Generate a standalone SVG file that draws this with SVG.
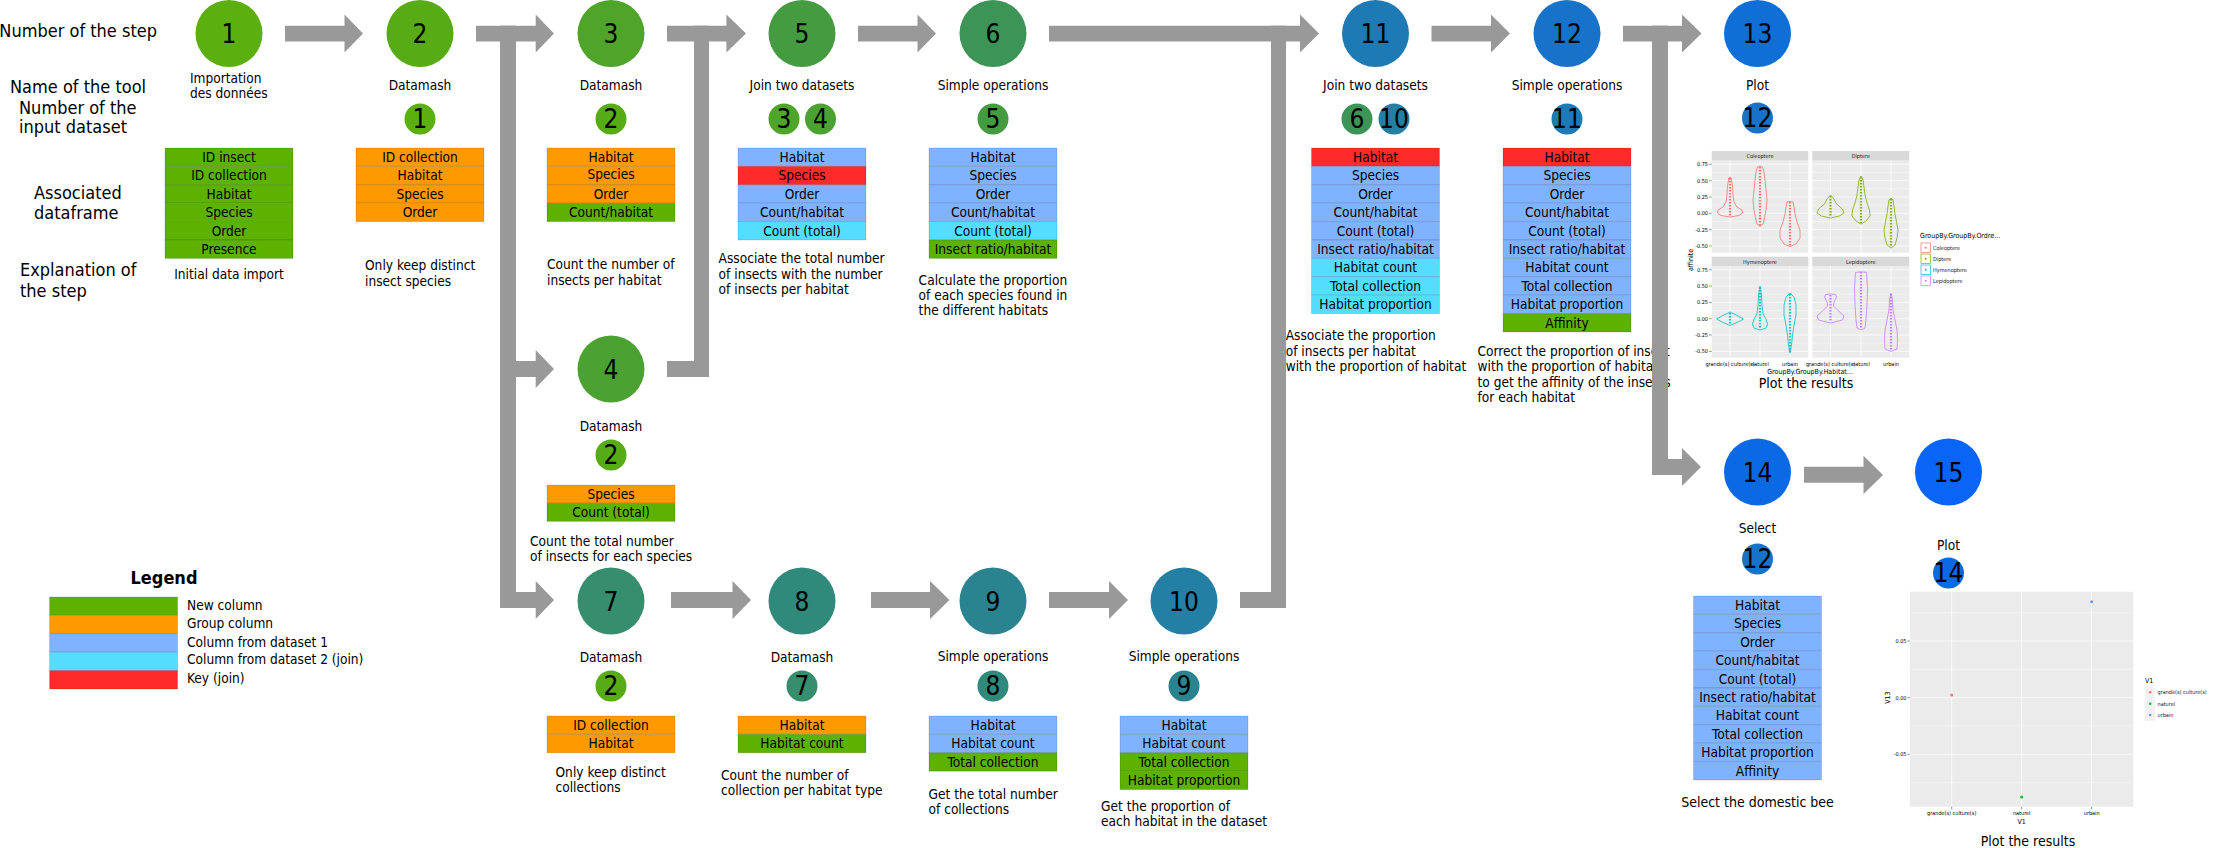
<svg xmlns="http://www.w3.org/2000/svg" width="2215" height="848" viewBox="0 0 2215 848">
<style>
text{font-family:"DejaVu Sans","Liberation Sans",sans-serif;font-stretch:condensed;fill:#000}
.l{font-size:13.6px}
.c{text-anchor:middle}
.n{font-size:26px;text-anchor:middle}
.s{font-size:18px}
.tb rect{stroke:#000;stroke-opacity:.13;stroke-width:1}
.tb text{font-size:13.6px;text-anchor:middle}
.rg{fill:#5db200}.ro{fill:#ff9900}.rb{fill:#80b3ff}.rc{fill:#55ddff}.rr{fill:#ff2a2a}
.arr{fill:#999}
.pb{fill:#ebebeb}
.gM{stroke:#fff;stroke-width:.7}
.gm{stroke:#fff;stroke-width:.35}
.tk{font-size:5.5px;fill:#4d4d4d}
.tr{text-anchor:end}
.ax{font-size:7px}
.vio{fill:none;stroke-width:.8}
.dot{stroke-width:2.2;stroke-dasharray:1.6 1.4}
</style>

<g id="side-labels">
<text class="s" x="157" y="37" text-anchor="end">Number of the step</text>
<text class="s" x="10" y="93">Name of the tool</text>
<text class="s" x="19" y="114">Number of the</text>
<text class="s" x="19" y="133">input dataset</text>
<text class="s" x="34" y="199">Associated</text>
<text class="s" x="34" y="219">dataframe</text>
<text class="s" x="20" y="276">Explanation of</text>
<text class="s" x="20" y="297">the step</text>
</g>

<g id="step1">
<circle cx="229" cy="33.5" r="33.5" fill="#5baf0e"/>
<text class="n" x="229" y="43">1</text>
<text class="l" x="190" y="83">Importation</text>
<text class="l" x="190" y="98">des données</text>
<g class="tb">
<rect class="rg" x="165" y="148" width="128" height="18.4"/><text x="229" y="162">ID insect</text>
<rect class="rg" x="165" y="166.4" width="128" height="18.4"/><text x="229" y="180.4">ID collection</text>
<rect class="rg" x="165" y="184.8" width="128" height="18.4"/><text x="229" y="198.8">Habitat</text>
<rect class="rg" x="165" y="203.2" width="128" height="18.4"/><text x="229" y="217.2">Species</text>
<rect class="rg" x="165" y="221.6" width="128" height="18.4"/><text x="229" y="235.6">Order</text>
<rect class="rg" x="165" y="240" width="128" height="18.4"/><text x="229" y="254">Presence</text>
</g>
<text class="l c" x="229" y="279">Initial data import</text>
</g>

<g id="step2">
<circle cx="420" cy="33.5" r="33.5" fill="#57ab14"/>
<text class="n" x="420" y="43">2</text>
<text class="l c" x="420" y="90">Datamash</text>
<circle cx="420" cy="119" r="15.5" fill="#5baf0e"/>
<text class="n" x="420" y="128.3">1</text>
<g class="tb">
<rect class="ro" x="356" y="148" width="128" height="18.4"/><text x="420" y="162">ID collection</text>
<rect class="ro" x="356" y="166.4" width="128" height="18.4"/><text x="420" y="180.4">Habitat</text>
<rect class="ro" x="356" y="184.8" width="128" height="18.4"/><text x="420" y="198.8">Species</text>
<rect class="ro" x="356" y="203.2" width="128" height="18.4"/><text x="420" y="217.2">Order</text>
</g>
<text class="l" x="365" y="270">Only keep distinct</text>
<text class="l" x="365" y="286">insect species</text>
</g>

<g id="step3">
<circle cx="611" cy="33.5" r="33.5" fill="#4fa42a"/>
<text class="n" x="611" y="43">3</text>
<text class="l c" x="611" y="90">Datamash</text>
<circle cx="611" cy="119" r="15.5" fill="#57ab14"/>
<text class="n" x="611" y="128.3">2</text>
<g class="tb">
<rect class="ro" x="547" y="148" width="128" height="18.4"/><text x="611" y="162">Habitat</text>
<rect class="ro" x="547" y="166.4" width="128" height="18.4"/><text x="611" y="178.5">Species</text>
<rect class="ro" x="547" y="184.8" width="128" height="18.4"/><text x="611" y="198.8">Order</text>
<rect class="rg" x="547" y="203.2" width="128" height="18.4"/><text x="611" y="217.2">Count/habitat</text>
</g>
<text class="l" x="547" y="269">Count the number of</text>
<text class="l" x="547" y="285">insects per habitat</text>
</g>

<g id="step4">
<circle cx="611" cy="369" r="33.5" fill="#4ba131"/>
<text class="n" x="611" y="378.5">4</text>
<text class="l c" x="611" y="431">Datamash</text>
<circle cx="611" cy="455" r="15.5" fill="#57ab14"/>
<text class="n" x="611" y="464.3">2</text>
<g class="tb">
<rect class="ro" x="547" y="485" width="128" height="18.2"/><text x="611" y="499">Species</text>
<rect class="rg" x="547" y="503.2" width="128" height="18.2"/><text x="611" y="517.2">Count (total)</text>
</g>
<text class="l" x="530" y="546">Count the total number</text>
<text class="l" x="530" y="561">of insects for each species</text>
</g>

<g id="step5">
<circle cx="802" cy="33.5" r="33.5" fill="#449b40"/>
<text class="n" x="802" y="43">5</text>
<text class="l c" x="802" y="90">Join two datasets</text>
<circle cx="784" cy="119" r="15.5" fill="#4fa42a"/>
<text class="n" x="784" y="128.3">3</text>
<circle cx="820.5" cy="119" r="15.5" fill="#4ba131"/>
<text class="n" x="820.5" y="128.3">4</text>
<g class="tb">
<rect class="rb" x="738" y="148" width="128" height="18.4"/><text x="802" y="162">Habitat</text>
<rect class="rr" x="738" y="166.4" width="128" height="18.4"/><text x="802" y="180.4">Species</text>
<rect class="rb" x="738" y="184.8" width="128" height="18.4"/><text x="802" y="198.8">Order</text>
<rect class="rb" x="738" y="203.2" width="128" height="18.4"/><text x="802" y="217.2">Count/habitat</text>
<rect class="rc" x="738" y="221.6" width="128" height="18.4"/><text x="802" y="235.6">Count (total)</text>
</g>
<text class="l" x="718.6" y="263.3">Associate the total number</text>
<text class="l" x="718.6" y="279">of insects with the number</text>
<text class="l" x="718.6" y="294.3">of insects per habitat</text>
</g>

<g id="step6">
<circle cx="993" cy="33.5" r="33.5" fill="#3c9457"/>
<text class="n" x="993" y="43">6</text>
<text class="l c" x="993" y="90">Simple operations</text>
<circle cx="993" cy="119" r="15.5" fill="#449b40"/>
<text class="n" x="993" y="128.3">5</text>
<g class="tb">
<rect class="rb" x="929" y="148" width="128" height="18.4"/><text x="993" y="162">Habitat</text>
<rect class="rb" x="929" y="166.4" width="128" height="18.4"/><text x="993" y="180.4">Species</text>
<rect class="rb" x="929" y="184.8" width="128" height="18.4"/><text x="993" y="198.8">Order</text>
<rect class="rb" x="929" y="203.2" width="128" height="18.4"/><text x="993" y="217.2">Count/habitat</text>
<rect class="rc" x="929" y="221.6" width="128" height="18.4"/><text x="993" y="235.6">Count (total)</text>
<rect class="rg" x="929" y="240" width="128" height="18.4"/><text x="993" y="254">Insect ratio/habitat</text>
</g>
<text class="l" x="918.6" y="285">Calculate the proportion</text>
<text class="l" x="918.6" y="300">of each species found in</text>
<text class="l" x="918.6" y="315">the different habitats</text>
</g>

<g id="step7">
<circle cx="611" cy="601" r="33.5" fill="#368e6f"/>
<text class="n" x="611" y="610.5">7</text>
<text class="l c" x="611" y="661.7">Datamash</text>
<circle cx="611" cy="686" r="15.5" fill="#57ab14"/>
<text class="n" x="611" y="695.3">2</text>
<g class="tb">
<rect class="ro" x="547" y="716" width="128" height="18.4"/><text x="611" y="730">ID collection</text>
<rect class="ro" x="547" y="734.4" width="128" height="18.4"/><text x="611" y="748.4">Habitat</text>
</g>
<text class="l" x="555.5" y="777">Only keep distinct</text>
<text class="l" x="555.5" y="792">collections</text>
</g>

<g id="step8">
<circle cx="802" cy="601" r="33.5" fill="#2f8a7c"/>
<text class="n" x="802" y="610.5">8</text>
<text class="l c" x="802" y="661.7">Datamash</text>
<circle cx="802" cy="686" r="15.5" fill="#368e6f"/>
<text class="n" x="802" y="695.3">7</text>
<g class="tb">
<rect class="ro" x="738" y="716" width="128" height="18.4"/><text x="802" y="730">Habitat</text>
<rect class="rg" x="738" y="734.4" width="128" height="18.4"/><text x="802" y="748.4">Habitat count</text>
</g>
<text class="l" x="721" y="780">Count the number of</text>
<text class="l" x="721" y="795">collection per habitat type</text>
</g>

<g id="step9">
<circle cx="993" cy="601" r="33.5" fill="#2a8490"/>
<text class="n" x="993" y="610.5">9</text>
<text class="l c" x="993" y="660.7">Simple operations</text>
<circle cx="993" cy="686" r="15.5" fill="#2f8a7c"/>
<text class="n" x="993" y="695.3">8</text>
<g class="tb">
<rect class="rb" x="929" y="716" width="128" height="18.4"/><text x="993" y="730">Habitat</text>
<rect class="rb" x="929" y="734.4" width="128" height="18.4"/><text x="993" y="748.4">Habitat count</text>
<rect class="rg" x="929" y="752.8" width="128" height="18.4"/><text x="993" y="766.8">Total collection</text>
</g>
<text class="l" x="928.5" y="799">Get the total number</text>
<text class="l" x="928.5" y="814">of collections</text>
</g>

<g id="step10">
<circle cx="1184" cy="601" r="33.5" fill="#237fa4"/>
<text class="n" x="1184" y="610.5">10</text>
<text class="l c" x="1184" y="660.7">Simple operations</text>
<circle cx="1184" cy="686" r="15.5" fill="#2a8490"/>
<text class="n" x="1184" y="695.3">9</text>
<g class="tb">
<rect class="rb" x="1120" y="716" width="128" height="18.4"/><text x="1184" y="730">Habitat</text>
<rect class="rb" x="1120" y="734.4" width="128" height="18.4"/><text x="1184" y="748.4">Habitat count</text>
<rect class="rg" x="1120" y="752.8" width="128" height="18.4"/><text x="1184" y="766.8">Total collection</text>
<rect class="rg" x="1120" y="771.2" width="128" height="18.4"/><text x="1184" y="785.2">Habitat proportion</text>
</g>
<text class="l" x="1101" y="810.7">Get the proportion of</text>
<text class="l" x="1101" y="825.7">each habitat in the dataset</text>
</g>

<g id="step11">
<circle cx="1375.5" cy="33.5" r="33.5" fill="#1e7ab5"/>
<text class="n" x="1375.5" y="43">11</text>
<text class="l c" x="1375.5" y="90">Join two datasets</text>
<circle cx="1357" cy="119" r="15.5" fill="#3c9457"/>
<text class="n" x="1357" y="128.3">6</text>
<circle cx="1394" cy="119" r="15.5" fill="#237fa4"/>
<text class="n" x="1394" y="128.3">10</text>
<g class="tb">
<rect class="rr" x="1311.5" y="148" width="128" height="18.4"/><text x="1375.5" y="162">Habitat</text>
<rect class="rb" x="1311.5" y="166.4" width="128" height="18.4"/><text x="1375.5" y="180.4">Species</text>
<rect class="rb" x="1311.5" y="184.8" width="128" height="18.4"/><text x="1375.5" y="198.8">Order</text>
<rect class="rb" x="1311.5" y="203.2" width="128" height="18.4"/><text x="1375.5" y="217.2">Count/habitat</text>
<rect class="rb" x="1311.5" y="221.6" width="128" height="18.4"/><text x="1375.5" y="235.6">Count (total)</text>
<rect class="rb" x="1311.5" y="240" width="128" height="18.4"/><text x="1375.5" y="254">Insect ratio/habitat</text>
<rect class="rc" x="1311.5" y="258.4" width="128" height="18.4"/><text x="1375.5" y="272.4">Habitat count</text>
<rect class="rc" x="1311.5" y="276.8" width="128" height="18.4"/><text x="1375.5" y="290.8">Total collection</text>
<rect class="rc" x="1311.5" y="295.2" width="128" height="18.4"/><text x="1375.5" y="309.2">Habitat proportion</text>
</g>
<text class="l" x="1285.7" y="340">Associate the proportion</text>
<text class="l" x="1285.7" y="355.7">of insects per habitat</text>
<text class="l" x="1285.7" y="370.7">with the proportion of habitat</text>
</g>

<g id="step12">
<circle cx="1567" cy="33.5" r="33.5" fill="#1673c9"/>
<text class="n" x="1567" y="43">12</text>
<text class="l c" x="1567" y="90">Simple operations</text>
<circle cx="1567" cy="119" r="15.5" fill="#1e7ab5"/>
<text class="n" x="1567" y="128.3">11</text>
<g class="tb">
<rect class="rr" x="1503" y="148" width="128" height="18.4"/><text x="1567" y="162">Habitat</text>
<rect class="rb" x="1503" y="166.4" width="128" height="18.4"/><text x="1567" y="180.4">Species</text>
<rect class="rb" x="1503" y="184.8" width="128" height="18.4"/><text x="1567" y="198.8">Order</text>
<rect class="rb" x="1503" y="203.2" width="128" height="18.4"/><text x="1567" y="217.2">Count/habitat</text>
<rect class="rb" x="1503" y="221.6" width="128" height="18.4"/><text x="1567" y="235.6">Count (total)</text>
<rect class="rb" x="1503" y="240" width="128" height="18.4"/><text x="1567" y="254">Insect ratio/habitat</text>
<rect class="rb" x="1503" y="258.4" width="128" height="18.4"/><text x="1567" y="272.4">Habitat count</text>
<rect class="rb" x="1503" y="276.8" width="128" height="18.4"/><text x="1567" y="290.8">Total collection</text>
<rect class="rb" x="1503" y="295.2" width="128" height="18.4"/><text x="1567" y="309.2">Habitat proportion</text>
<rect class="rg" x="1503" y="313.6" width="128" height="18.4"/><text x="1567" y="327.6">Affinity</text>
</g>
<text class="l" x="1477.5" y="355.7">Correct the proportion of insect</text>
<text class="l" x="1477.5" y="371">with the proportion of habitat</text>
<text class="l" x="1477.5" y="386.7">to get the affinity of the insects</text>
<text class="l" x="1477.5" y="401.7">for each habitat</text>
</g>

<g id="step13">
<circle cx="1757.5" cy="33.5" r="33.5" fill="#0f6fd6"/>
<text class="n" x="1757.5" y="43">13</text>
<text class="l c" x="1757.5" y="90">Plot</text>
<circle cx="1757.5" cy="118" r="15.5" fill="#1673c9"/>
<text class="n" x="1757.5" y="127.3">12</text>
<g id="violin-plot">
<rect x="1711.7" y="151" width="96.6" height="9.7" fill="#d9d9d9"/>
<rect x="1812.3" y="151" width="97" height="9.7" fill="#d9d9d9"/>
<rect x="1711.7" y="256.7" width="96.6" height="9.3" fill="#d9d9d9"/>
<rect x="1812.3" y="256.7" width="97" height="9.3" fill="#d9d9d9"/>
<text class="tk c" x="1760" y="158" style="fill:#1a1a1a">Coleoptere</text>
<text class="tk c" x="1860.8" y="158" style="fill:#1a1a1a">Diptere</text>
<text class="tk c" x="1760" y="263.5" style="fill:#1a1a1a">Hymenoptere</text>
<text class="tk c" x="1860.8" y="263.5" style="fill:#1a1a1a">Lepidoptere</text>
<rect class="pb" x="1711.7" y="160.7" width="96.6" height="92"/>
<rect class="pb" x="1812.3" y="160.7" width="97" height="92"/>
<rect class="pb" x="1711.7" y="266" width="96.6" height="91.7"/>
<rect class="pb" x="1812.3" y="266" width="97" height="91.7"/>
<g class="gm">
<path d="M1711.7 172.5H1808.3M1711.7 188.8H1808.3M1711.7 205.2H1808.3M1711.7 221.5H1808.3M1711.7 237.8H1808.3M1812.3 172.5H1909.3M1812.3 188.8H1909.3M1812.3 205.2H1909.3M1812.3 221.5H1909.3M1812.3 237.8H1909.3"/>
<path d="M1711.7 277.9H1808.3M1711.7 294.2H1808.3M1711.7 310.5H1808.3M1711.7 326.9H1808.3M1711.7 343.2H1808.3M1812.3 277.9H1909.3M1812.3 294.2H1909.3M1812.3 310.5H1909.3M1812.3 326.9H1909.3M1812.3 343.2H1909.3"/>
</g>
<g class="gM">
<path d="M1711.7 164.3H1808.3M1711.7 180.7H1808.3M1711.7 197H1808.3M1711.7 213.3H1808.3M1711.7 229.6H1808.3M1711.7 246H1808.3M1812.3 164.3H1909.3M1812.3 180.7H1909.3M1812.3 197H1909.3M1812.3 213.3H1909.3M1812.3 229.6H1909.3M1812.3 246H1909.3"/>
<path d="M1711.7 269.7H1808.3M1711.7 286.1H1808.3M1711.7 302.4H1808.3M1711.7 318.7H1808.3M1711.7 335H1808.3M1711.7 351.4H1808.3M1812.3 269.7H1909.3M1812.3 286.1H1909.3M1812.3 302.4H1909.3M1812.3 318.7H1909.3M1812.3 335H1909.3M1812.3 351.4H1909.3"/>
<path d="M1730 160.7V252.7M1760 160.7V252.7M1790 160.7V252.7M1830.5 160.7V252.7M1861 160.7V252.7M1891 160.7V252.7M1730 266V357.7M1760 266V357.7M1790 266V357.7M1830.5 266V357.7M1861 266V357.7M1891 266V357.7"/>
</g>
<g class="vio" stroke="#f8766d">
<path d="M1730,217 L1739,215.5 L1742.5,213 L1742,210 L1737,207 L1734,202 L1733,195 L1732.5,186 L1731.2,178 L1730,177 L1728.8,178 L1727.5,186 L1727,195 L1726,202 L1723,207 L1718,210 L1717.5,213 L1721,215.5 Z"/>
<path d="M1760,226.5 L1763,224 L1764.5,218 L1766,210 L1767,200 L1766,190 L1765,180 L1764,172 L1762.5,167 L1760,166 L1757.5,167 L1756,172 L1755,180 L1754,190 L1753,200 L1754,210 L1755.5,218 L1757,224 Z"/>
<path d="M1790,246.5 L1796,244 L1800,238 L1800,230 L1797,222 L1795,214 L1794,207 L1793,202 L1790,201.5 L1787,202 L1786,207 L1785,214 L1783,222 L1780,230 L1780,238 L1784,244 Z"/>
</g>
<g class="dot" stroke="#f8766d">
<path d="M1730 178V216M1760 167V226M1790 202V246"/>
</g>
<g class="vio" stroke="#7cae00">
<path d="M1830.5,218 L1839.5,216 L1844,213 L1842.5,209 L1836.5,204 L1834,199 L1830.5,195 L1827,199 L1824.5,204 L1818.5,209 L1817,213 L1821.5,216 Z"/>
<path d="M1861,224 L1866,221 L1870,216 L1869.5,210 L1867,203 L1865,195 L1864,187 L1863,180 L1861,176 L1859,180 L1858,187 L1857,195 L1855,203 L1852.5,210 L1852,216 L1856,221 Z"/>
<path d="M1891,248 L1895,245 L1897,238 L1898,230 L1896.5,222 L1895,214 L1894,206 L1893,200 L1891,198 L1889,200 L1888,206 L1887,214 L1885.5,222 L1884,230 L1885,238 L1887,245 Z"/>
</g>
<g class="dot" stroke="#7cae00">
<path d="M1830.5 196V217M1861 177V223M1891 199V247"/>
</g>
<g class="vio" stroke="#00bfc4">
<path d="M1730,325.5 L1738,322 L1743.5,319 L1738,316 L1730,312 L1722,316 L1716.5,319 L1722,322 Z"/>
<path d="M1760,330 L1766,328 L1767.5,324 L1766,319 L1763,314 L1762,305 L1761.5,295 L1760,286 L1758.5,295 L1758,305 L1757,314 L1754,319 L1752.5,324 L1754,328 Z"/>
<path d="M1790,353 L1791.5,345 L1792.5,335 L1794,325 L1796,315 L1796,305 L1794,297 L1790,293 L1786,297 L1784,305 L1784,315 L1786,325 L1787.5,335 L1788.5,345 Z"/>
</g>
<g class="dot" stroke="#00bfc4">
<path d="M1730 313V325M1760 287V329M1790 294V352"/>
</g>
<g class="vio" stroke="#c77cff">
<path d="M1830.5,323 L1842.5,320 L1844,316 L1839.5,312 L1833.5,306 L1834,302 L1836.5,297 L1835.5,294.5 L1830.5,294 L1825.5,294.5 L1824.5,297 L1827,302 L1827.5,306 L1821.5,312 L1817,316 L1818.5,320 Z"/>
<path d="M1861,330 L1865,328 L1866,320 L1867,305 L1867.5,290 L1867,280 L1866.5,272.5 L1861,271.7 L1855.5,272.5 L1855,280 L1854.5,290 L1855,305 L1856,320 L1857,328 Z"/>
<path d="M1891,351.5 L1897,349 L1897.5,340 L1897,330 L1895,320 L1893,310 L1892.5,300 L1891,293 L1889.5,300 L1889,310 L1887,320 L1885,330 L1884.5,340 L1885,349 Z"/>
</g>
<g class="dot" stroke="#c77cff">
<path d="M1830.5 295V322M1861 272V329M1891 294V351"/>
</g>
<path d="M1709 164.3H1711.7M1709 180.7H1711.7M1709 197H1711.7M1709 213.3H1711.7M1709 229.6H1711.7M1709 246H1711.7M1709 269.7H1711.7M1709 286.1H1711.7M1709 302.4H1711.7M1709 318.7H1711.7M1709 335H1711.7M1709 351.4H1711.7" stroke="#333" stroke-width=".5"/>
<g class="tk tr">
<text x="1708" y="166.2">0.75</text><text x="1708" y="182.6">0.50</text><text x="1708" y="198.9">0.25</text><text x="1708" y="215.2">0.00</text><text x="1708" y="231.5">-0.25</text><text x="1708" y="247.9">-0.50</text>
<text x="1708" y="271.6">0.75</text><text x="1708" y="288">0.50</text><text x="1708" y="304.3">0.25</text><text x="1708" y="320.6">0.00</text><text x="1708" y="336.9">-0.25</text><text x="1708" y="353.3">-0.50</text>
</g>
<g class="tk c">
<text x="1730" y="366">grande(s) culture(s)</text><text x="1760" y="366">naturel</text><text x="1790" y="366">urbain</text>
<text x="1830.5" y="366">grande(s) culture(s)</text><text x="1861" y="366">naturel</text><text x="1891" y="366">urbain</text>
</g>
<text class="ax c" x="1810" y="374">GroupBy.GroupBy.Habitat...</text>
<text class="ax c" transform="translate(1693 260) rotate(-90)">affinite</text>
<text class="ax" x="1920" y="238">GroupBy.GroupBy.Ordre...</text>
<rect x="1921" y="243" width="9.5" height="9.5" fill="#fff" stroke="#f8766d" stroke-width=".7"/><circle cx="1925.7" cy="247.7" r="1" fill="#f8766d"/>
<rect x="1921" y="254" width="9.5" height="9.5" fill="#fff" stroke="#7cae00" stroke-width=".7"/><circle cx="1925.7" cy="258.7" r="1" fill="#7cae00"/>
<rect x="1921" y="265" width="9.5" height="9.5" fill="#fff" stroke="#00bfc4" stroke-width=".7"/><circle cx="1925.7" cy="269.7" r="1" fill="#00bfc4"/>
<rect x="1921" y="276" width="9.5" height="9.5" fill="#fff" stroke="#c77cff" stroke-width=".7"/><circle cx="1925.7" cy="280.7" r="1" fill="#c77cff"/>
<text class="tk" x="1933" y="249.6" style="fill:#1a1a1a">Coleoptere</text>
<text class="tk" x="1933" y="260.6" style="fill:#1a1a1a">Diptere</text>
<text class="tk" x="1933" y="271.6" style="fill:#1a1a1a">Hymenoptere</text>
<text class="tk" x="1933" y="282.6" style="fill:#1a1a1a">Lepidoptere</text>
</g>
<text class="l c" x="1806" y="388" style="font-size:14px">Plot the results</text>
</g>

<g id="step14">
<circle cx="1757.5" cy="472" r="33.5" fill="#0b6ae3"/>
<text class="n" x="1757.5" y="481.5">14</text>
<text class="l c" x="1757.5" y="533">Select</text>
<circle cx="1757.5" cy="559" r="15.5" fill="#1673c9"/>
<text class="n" x="1757.5" y="568.3">12</text>
<g class="tb">
<rect class="rb" x="1693.5" y="596" width="128" height="18.4"/><text x="1757.5" y="610">Habitat</text>
<rect class="rb" x="1693.5" y="614.4" width="128" height="18.4"/><text x="1757.5" y="628.4">Species</text>
<rect class="rb" x="1693.5" y="632.8" width="128" height="18.4"/><text x="1757.5" y="646.8">Order</text>
<rect class="rb" x="1693.5" y="651.2" width="128" height="18.4"/><text x="1757.5" y="665.2">Count/habitat</text>
<rect class="rb" x="1693.5" y="669.6" width="128" height="18.4"/><text x="1757.5" y="683.6">Count (total)</text>
<rect class="rb" x="1693.5" y="688" width="128" height="18.4"/><text x="1757.5" y="702">Insect ratio/habitat</text>
<rect class="rb" x="1693.5" y="706.4" width="128" height="18.4"/><text x="1757.5" y="720.4">Habitat count</text>
<rect class="rb" x="1693.5" y="724.8" width="128" height="18.4"/><text x="1757.5" y="738.8">Total collection</text>
<rect class="rb" x="1693.5" y="743.2" width="128" height="18.4"/><text x="1757.5" y="757.2">Habitat proportion</text>
<rect class="rb" x="1693.5" y="761.6" width="128" height="18.4"/><text x="1757.5" y="775.6">Affinity</text>
</g>
<text class="l c" x="1757.5" y="806.7" style="font-size:14px">Select the domestic bee</text>
</g>

<g id="step15">
<circle cx="1948.5" cy="472" r="33.5" fill="#0865f5"/>
<text class="n" x="1948.5" y="481.5">15</text>
<text class="l c" x="1948.5" y="550">Plot</text>
<circle cx="1948.5" cy="573" r="15.5" fill="#0b6ae3"/>
<text class="n" x="1948.5" y="582.3">14</text>
<g id="scatter-plot">
<rect class="pb" x="1910" y="591.7" width="223.3" height="215"/>
<path class="gm" d="M1910 612.7H2133.3M1910 669.3H2133.3M1910 726H2133.3M1910 782.7H2133.3"/>
<path class="gM" d="M1910 641H2133.3M1910 697.7H2133.3M1910 754.3H2133.3M1951.7 591.7V806.7M2021.7 591.7V806.7M2091.7 591.7V806.7"/>
<path d="M1907.3 641H1910M1907.3 697.7H1910M1907.3 754.3H1910M1951.7 806.7V809.4M2021.7 806.7V809.4M2091.7 806.7V809.4" stroke="#333" stroke-width=".5"/>
<circle cx="1951.7" cy="695" r="1.5" fill="#f8766d"/>
<circle cx="2021.7" cy="797" r="1.5" fill="#00ba38"/>
<circle cx="2091.7" cy="601.7" r="1.5" fill="#619cff"/>
<g class="tk tr">
<text x="1906.5" y="643">0.05</text><text x="1906.5" y="699.7">0.00</text><text x="1906.5" y="756.3">-0.05</text>
</g>
<g class="tk c">
<text x="1951.7" y="815">grande(s) culture(s)</text><text x="2021.7" y="815">naturel</text><text x="2091.7" y="815">urbain</text>
</g>
<text class="ax c" x="2021.7" y="824">V1</text>
<text class="ax c" transform="translate(1890 697.7) rotate(-90)">V13</text>
<text class="ax" x="2145" y="683">V1</text>
<rect x="2145" y="687.3" width="10.3" height="33.7" fill="#f2f2f2"/>
<circle cx="2150.2" cy="692.3" r="1.3" fill="#f8766d"/>
<circle cx="2150.2" cy="703.7" r="1.3" fill="#00ba38"/>
<circle cx="2150.2" cy="715" r="1.3" fill="#619cff"/>
<text class="tk" x="2157.5" y="694.3" style="fill:#1a1a1a">grande(s) culture(s)</text>
<text class="tk" x="2157.5" y="705.7" style="fill:#1a1a1a">naturel</text>
<text class="tk" x="2157.5" y="717" style="fill:#1a1a1a">urbain</text>
</g>
<text class="l c" x="2028" y="846" style="font-size:14px">Plot the results</text>
</g>

<g id="legend">
<text x="164" y="584" text-anchor="middle" style="font-size:18px;font-weight:bold">Legend</text>
<g class="tb">
<rect class="rg" x="49.6" y="597" width="128" height="18.4"/>
<rect class="ro" x="49.6" y="615.4" width="128" height="18.4"/>
<rect class="rb" x="49.6" y="633.8" width="128" height="18.4"/>
<rect class="rc" x="49.6" y="652.2" width="128" height="18.4"/>
<rect class="rr" x="49.6" y="670.6" width="128" height="18.4"/>
</g>
<text class="l" x="187" y="610">New column</text>
<text class="l" x="187" y="628">Group column</text>
<text class="l" x="187" y="647">Column from dataset 1</text>
<text class="l" x="187" y="664">Column from dataset 2 (join)</text>
<text class="l" x="187" y="682.6">Key (join)</text>
</g>

<g id="connectors" class="arr">
<path d="M285 25.7H344.5V14.6L363 33.6L344.5 52.6V41.5H285Z"/>
<path d="M476 25.7H535.7V14.6L554 33.6L535.7 52.6V41.5H476Z"/>
<rect x="500" y="25.7" width="16" height="582.3"/>
<path d="M510 361H535.7V350L554 369L535.7 388V377H510Z"/>
<path d="M510 592H535.7V581L554 600L535.7 619V608H510Z"/>
<path d="M667 25.7H726.4V14.6L746 33.6L726.4 52.6V41.5H667Z"/>
<rect x="694" y="25.7" width="15" height="351.3"/>
<rect x="667" y="361" width="42" height="16"/>
<path d="M858 25.7H917.5V14.6L936 33.6L917.5 52.6V41.5H858Z"/>
<path d="M1049 25.7H1300V14.6L1319 33.6L1300 52.6V41.5H1049Z"/>
<rect x="1271" y="25.7" width="15" height="582.3"/>
<rect x="1240" y="592" width="46" height="16"/>
<path d="M1431.5 25.7H1491V14.6L1510 33.6L1491 52.6V41.5H1431.5Z"/>
<path d="M1623 25.7H1682V14.6L1701.5 33.6L1682 52.6V41.5H1623Z"/>
<rect x="1652" y="25.7" width="16" height="449.3"/>
<path d="M1660 459H1682V448L1701 467L1682 486V475H1660Z"/>
<path d="M1804 466.7H1863.5V455.7L1883 475L1863.5 494V482.7H1804Z"/>
<path d="M671 592H732.5V581L751 600L732.5 619V608H671Z"/>
<path d="M871 592H930V581L949.5 600L930 619V608H871Z"/>
<path d="M1049 592H1109V581L1128 600L1109 619V608H1049Z"/>
</g>
</svg>
